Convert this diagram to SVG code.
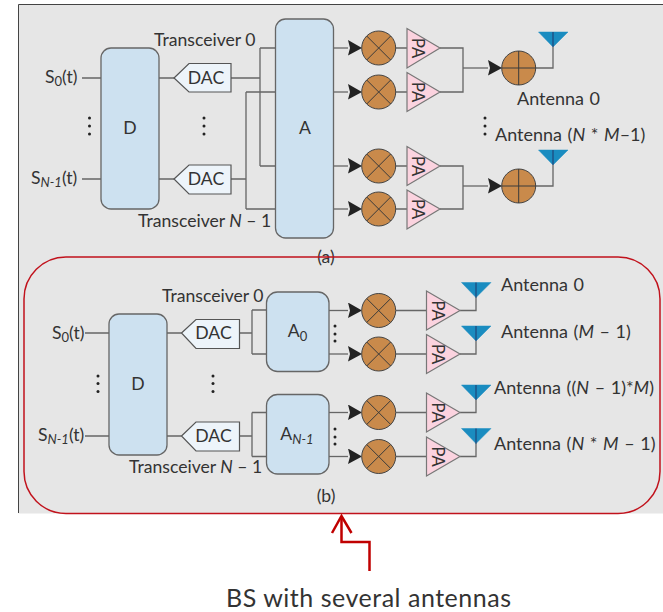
<svg xmlns="http://www.w3.org/2000/svg" width="663" height="612" viewBox="0 0 663 612">
<defs>
<style>
text{font-family:"Lato","Open Sans",sans-serif;font-size:17.6px;fill:#333}
.an{font-size:18px;word-spacing:1px}
.w{fill:none;stroke:#666;stroke-width:1.3}
.blk{fill:#cde1f0;stroke:#666;stroke-width:1.3}
.dac{fill:#edf4fa;stroke:#555;stroke-width:1.2}
.mix{fill:#c98a4b;stroke:#444;stroke-width:1}
.mixl{stroke:#3a3a3a;stroke-width:1;fill:none}
.pa{fill:#fbd3df;stroke:#777;stroke-width:1.2}
.pat{font-size:16.500px}
.ant{fill:#1a8cc0;stroke:#1a8cc0;stroke-width:.5}
.antl{stroke:#225;stroke-width:.8;fill:none}
.m{text-anchor:middle}
.s{font-size:13px}
.i{font-style:italic}
.dot{fill:#222}
</style>
<marker id="ah" markerUnits="userSpaceOnUse" markerWidth="15" markerHeight="16" refX="0" refY="8" orient="auto"><path d="M0 0L14 8L0 15.5L2 8Z" fill="#222"/></marker>
</defs>
<rect width="663" height="612" fill="#fff"/>
<path d="M663 4.500H18.500V513.500H663Z" fill="#e6e6e6" stroke="none"/>
<path d="M663 4.500H18.500V513" fill="none" stroke="#444" stroke-width="1"/>
<g id="connectors" class="w">
<path class="w" d="M82 78H101M82 179H101M159 78H174M159 179H174M231 78H260M260 48V166M260 48H275.500M260 166H275.500M231 179H246M246 92V209M246 92H275.500M246 209H275.500"/>
<path class="w" d="M333.500 48H348" marker-end="url(#ah)"/>
<path class="w" d="M333.500 92H348" marker-end="url(#ah)"/>
<path class="w" d="M333.500 166H348" marker-end="url(#ah)"/>
<path class="w" d="M333.500 209H348" marker-end="url(#ah)"/>
<path class="w" d="M396 48H407M396 92H407M396 166H407M396 209H407M440 48H463V92H440M440 166H463V209H440"/>
<path class="w" d="M463 68H488" marker-end="url(#ah)"/>
<path class="w" d="M463 186H488" marker-end="url(#ah)"/>
<path class="w" d="M536 68H553V47M536 186H553V165"/>
<path class="w" d="M85 333H109M85 436H109M167 333H181.500M167 436H181.500M239.500 333H252M252 310V354M252 310H266.500M252 354H266.500M239.500 436H252M252 412.500V456.500M252 412.500H266.500M252 456.500H266.500"/>
<path class="w" d="M329 310.500H348" marker-end="url(#ah)"/>
<path class="w" d="M329 354H348" marker-end="url(#ah)"/>
<path class="w" d="M329 412.500H348" marker-end="url(#ah)"/>
<path class="w" d="M329 456.500H348" marker-end="url(#ah)"/>
<path class="w" d="M396 310.500H427M396 354H427M396 412.500H427M396 456.500H427M460 310.500H476V297M460 354H476V341M460 412.500H476V400M460 456.500H476V443"/>
</g>
<g id="D-a"><rect class="blk" x="101" y="48" width="58" height="161" rx="10"/><text class="m" x="130" y="134">D</text></g>
<g id="A-a"><rect class="blk" x="275.500" y="19" width="58" height="219" rx="10"/><text class="m" x="305" y="134">A</text></g>
<g id="dac-a0"><path class="dac" d="M174 78L189 63.500H231V92H189Z"/><text class="m" x="206" y="84">DAC</text></g>
<g id="dac-a1"><path class="dac" d="M174 179L189 165H231V194H189Z"/><text class="m" x="206" y="185">DAC</text></g>
<g id="labels-a">
<text x="154" y="45.500">Transceiver 0</text>
<text x="138" y="227">Transceiver <tspan class="i">N</tspan> – 1</text>
<text x="45" y="83">S<tspan class="s" dy="3">0</tspan><tspan dy="-3">(t)</tspan></text>
<text x="31" y="184">S<tspan class="s i" dy="3">N-1</tspan><tspan dy="-3">(t)</tspan></text>
<text class="m" x="326" y="263">(a)</text>
<text class="an" x="517" y="105">Antenna 0</text>
<text class="an" x="495" y="141">Antenna (<tspan class="i">N</tspan> * <tspan class="i">M</tspan>–1)</text>
</g>
<g id="dots-a" class="dot">
<circle cx="89.500" cy="118" r="1.500"/><circle cx="89.500" cy="126" r="1.500"/><circle cx="89.500" cy="134" r="1.500"/>
<circle cx="204" cy="118" r="1.500"/><circle cx="204" cy="126" r="1.500"/><circle cx="204" cy="134" r="1.500"/>
<circle cx="485" cy="118" r="1.500"/><circle cx="485" cy="126" r="1.500"/><circle cx="485" cy="134" r="1.500"/>
</g>
<g id="mix-a0"><circle class="mix" cx="378.700" cy="48" r="17"/><path class="mixl" d="M366.700 36L390.700 60M390.700 36L366.700 60"/></g>
<g id="mix-a1"><circle class="mix" cx="378.700" cy="92" r="17"/><path class="mixl" d="M366.700 80L390.700 104M390.700 80L366.700 104"/></g>
<g id="mix-a2"><circle class="mix" cx="378.700" cy="166" r="17"/><path class="mixl" d="M366.700 154L390.700 178M390.700 154L366.700 178"/></g>
<g id="mix-a3"><circle class="mix" cx="378.700" cy="209" r="17"/><path class="mixl" d="M366.700 197L390.700 221M390.700 197L366.700 221"/></g>
<g id="pa-a0"><path class="pa" d="M407 28.500V68L440 48Z"/><text class="m pat" transform="translate(412 48) rotate(90)">PA</text></g>
<g id="pa-a1"><path class="pa" d="M407 72.500V111.500L440 92Z"/><text class="m pat" transform="translate(412 92) rotate(90)">PA</text></g>
<g id="pa-a2"><path class="pa" d="M407 146.500V185.500L440 166Z"/><text class="m pat" transform="translate(412 166) rotate(90)">PA</text></g>
<g id="pa-a3"><path class="pa" d="M407 190V229L440 209Z"/><text class="m pat" transform="translate(412 209) rotate(90)">PA</text></g>
<g id="add-a0"><circle class="mix" cx="518.700" cy="68" r="17"/><path class="mixl" d="M501.700 68H535.700M518.700 51V85"/></g>
<g id="add-a1"><circle class="mix" cx="518.700" cy="186" r="17"/><path class="mixl" d="M501.700 186H535.700M518.700 169V203"/></g>
<g id="ant-a0"><path class="ant" d="M538.500 32H568L553 47Z"/><path class="antl" d="M553 32V47"/></g>
<g id="ant-a1"><path class="ant" d="M538.500 150H568L553 165Z"/><path class="antl" d="M553 150V165"/></g>

<rect id="bs-outline" x="24" y="257" width="636" height="256.500" rx="42" fill="none" stroke="#c1121c" stroke-width="1.500"/>

<g id="D-b"><rect class="blk" x="109" y="314" width="58" height="141" rx="10"/><text class="m" x="138" y="390">D</text></g>
<g id="A0-b"><rect class="blk" x="266.500" y="292" width="62.500" height="79.500" rx="11"/><text class="m" x="297.500" y="337">A<tspan class="s" dy="4">0</tspan></text></g>
<g id="AN-b"><rect class="blk" x="266.500" y="394.500" width="62.500" height="79.500" rx="11"/><text class="m" x="297" y="440">A<tspan class="s i" dy="4">N-1</tspan></text></g>
<g id="dac-b0"><path class="dac" d="M181.500 333L196 319.500H239.500V348.500H196Z"/><text class="m" x="213.500" y="339">DAC</text></g>
<g id="dac-b1"><path class="dac" d="M181.500 436L196 422H239.500V451H196Z"/><text class="m" x="213.500" y="442">DAC</text></g>
<g id="labels-b">
<text x="162" y="301.500">Transceiver 0</text>
<text x="129" y="473">Transceiver <tspan class="i">N</tspan> – 1</text>
<text x="52" y="339">S<tspan class="s" dy="3">0</tspan><tspan dy="-3">(t)</tspan></text>
<text x="38" y="441">S<tspan class="s i" dy="3">N-1</tspan><tspan dy="-3">(t)</tspan></text>
<text class="m" x="326" y="501.500">(b)</text>
<text class="an" x="501" y="291">Antenna 0</text>
<text class="an" x="501" y="338">Antenna (<tspan class="i">M</tspan> – 1)</text>
<text class="an" x="494" y="394">Antenna ((<tspan class="i">N</tspan> – 1)*<tspan class="i">M</tspan>)</text>
<text class="an" x="494" y="450">Antenna (<tspan class="i">N</tspan> * <tspan class="i">M</tspan> – 1)</text>
</g>
<g id="dots-b" class="dot">
<circle cx="98" cy="376" r="1.500"/><circle cx="98" cy="383.500" r="1.500"/><circle cx="98" cy="391.500" r="1.500"/>
<circle cx="213" cy="376" r="1.500"/><circle cx="213" cy="383.500" r="1.500"/><circle cx="213" cy="391.500" r="1.500"/>
<circle cx="335" cy="326" r="1.500"/><circle cx="335" cy="334" r="1.500"/><circle cx="335" cy="341" r="1.500"/>
<circle cx="335" cy="429" r="1.500"/><circle cx="335" cy="437" r="1.500"/><circle cx="335" cy="444" r="1.500"/>
</g>
<g id="mix-b0"><circle class="mix" cx="378.700" cy="310.500" r="17"/><path class="mixl" d="M366.700 298.500L390.700 322.500M390.700 298.500L366.700 322.500"/></g>
<g id="mix-b1"><circle class="mix" cx="378.700" cy="354" r="17"/><path class="mixl" d="M366.700 342L390.700 366M390.700 342L366.700 366"/></g>
<g id="mix-b2"><circle class="mix" cx="378.700" cy="412.500" r="17"/><path class="mixl" d="M366.700 400.500L390.700 424.500M390.700 400.500L366.700 424.500"/></g>
<g id="mix-b3"><circle class="mix" cx="378.700" cy="456.500" r="17"/><path class="mixl" d="M366.700 444.500L390.700 468.500M390.700 444.500L366.700 468.500"/></g>
<g id="pa-b0"><path class="pa" d="M426.500 291V330L460 310.500Z"/><text class="m pat" transform="translate(431.500 310.500) rotate(90)">PA</text></g>
<g id="pa-b1"><path class="pa" d="M426.500 334.500V373.500L460 354Z"/><text class="m pat" transform="translate(431.500 354) rotate(90)">PA</text></g>
<g id="pa-b2"><path class="pa" d="M426.500 393V432L460 412.500Z"/><text class="m pat" transform="translate(431.500 412.500) rotate(90)">PA</text></g>
<g id="pa-b3"><path class="pa" d="M426.500 437V476L460 456.500Z"/><text class="m pat" transform="translate(431.500 456.500) rotate(90)">PA</text></g>
<g id="ant-b0"><path class="ant" d="M461.500 282.500H491L476 297.500Z"/><path class="antl" d="M476 282.500V297.500"/></g>
<g id="ant-b1"><path class="ant" d="M461.500 326H491L476 341Z"/><path class="antl" d="M476 326V341"/></g>
<g id="ant-b2"><path class="ant" d="M461.500 385H491L476 400Z"/><path class="antl" d="M476 385V400"/></g>
<g id="ant-b3"><path class="ant" d="M461.500 428.500H491L476 443.500Z"/><path class="antl" d="M476 428.500V443.500"/></g>

<g id="bs-pointer" fill="none" stroke="#c00000" stroke-width="2.500">
<path d="M369.500 571V542H341.500V516"/><path d="M332 533L341.500 516L351.500 533"/>
</g>
<text id="bs-label" x="226" y="607" style="font-size:25px;fill:#333;font-family:'Lato',sans-serif" textLength="285">BS with several antennas</text>
</svg>
